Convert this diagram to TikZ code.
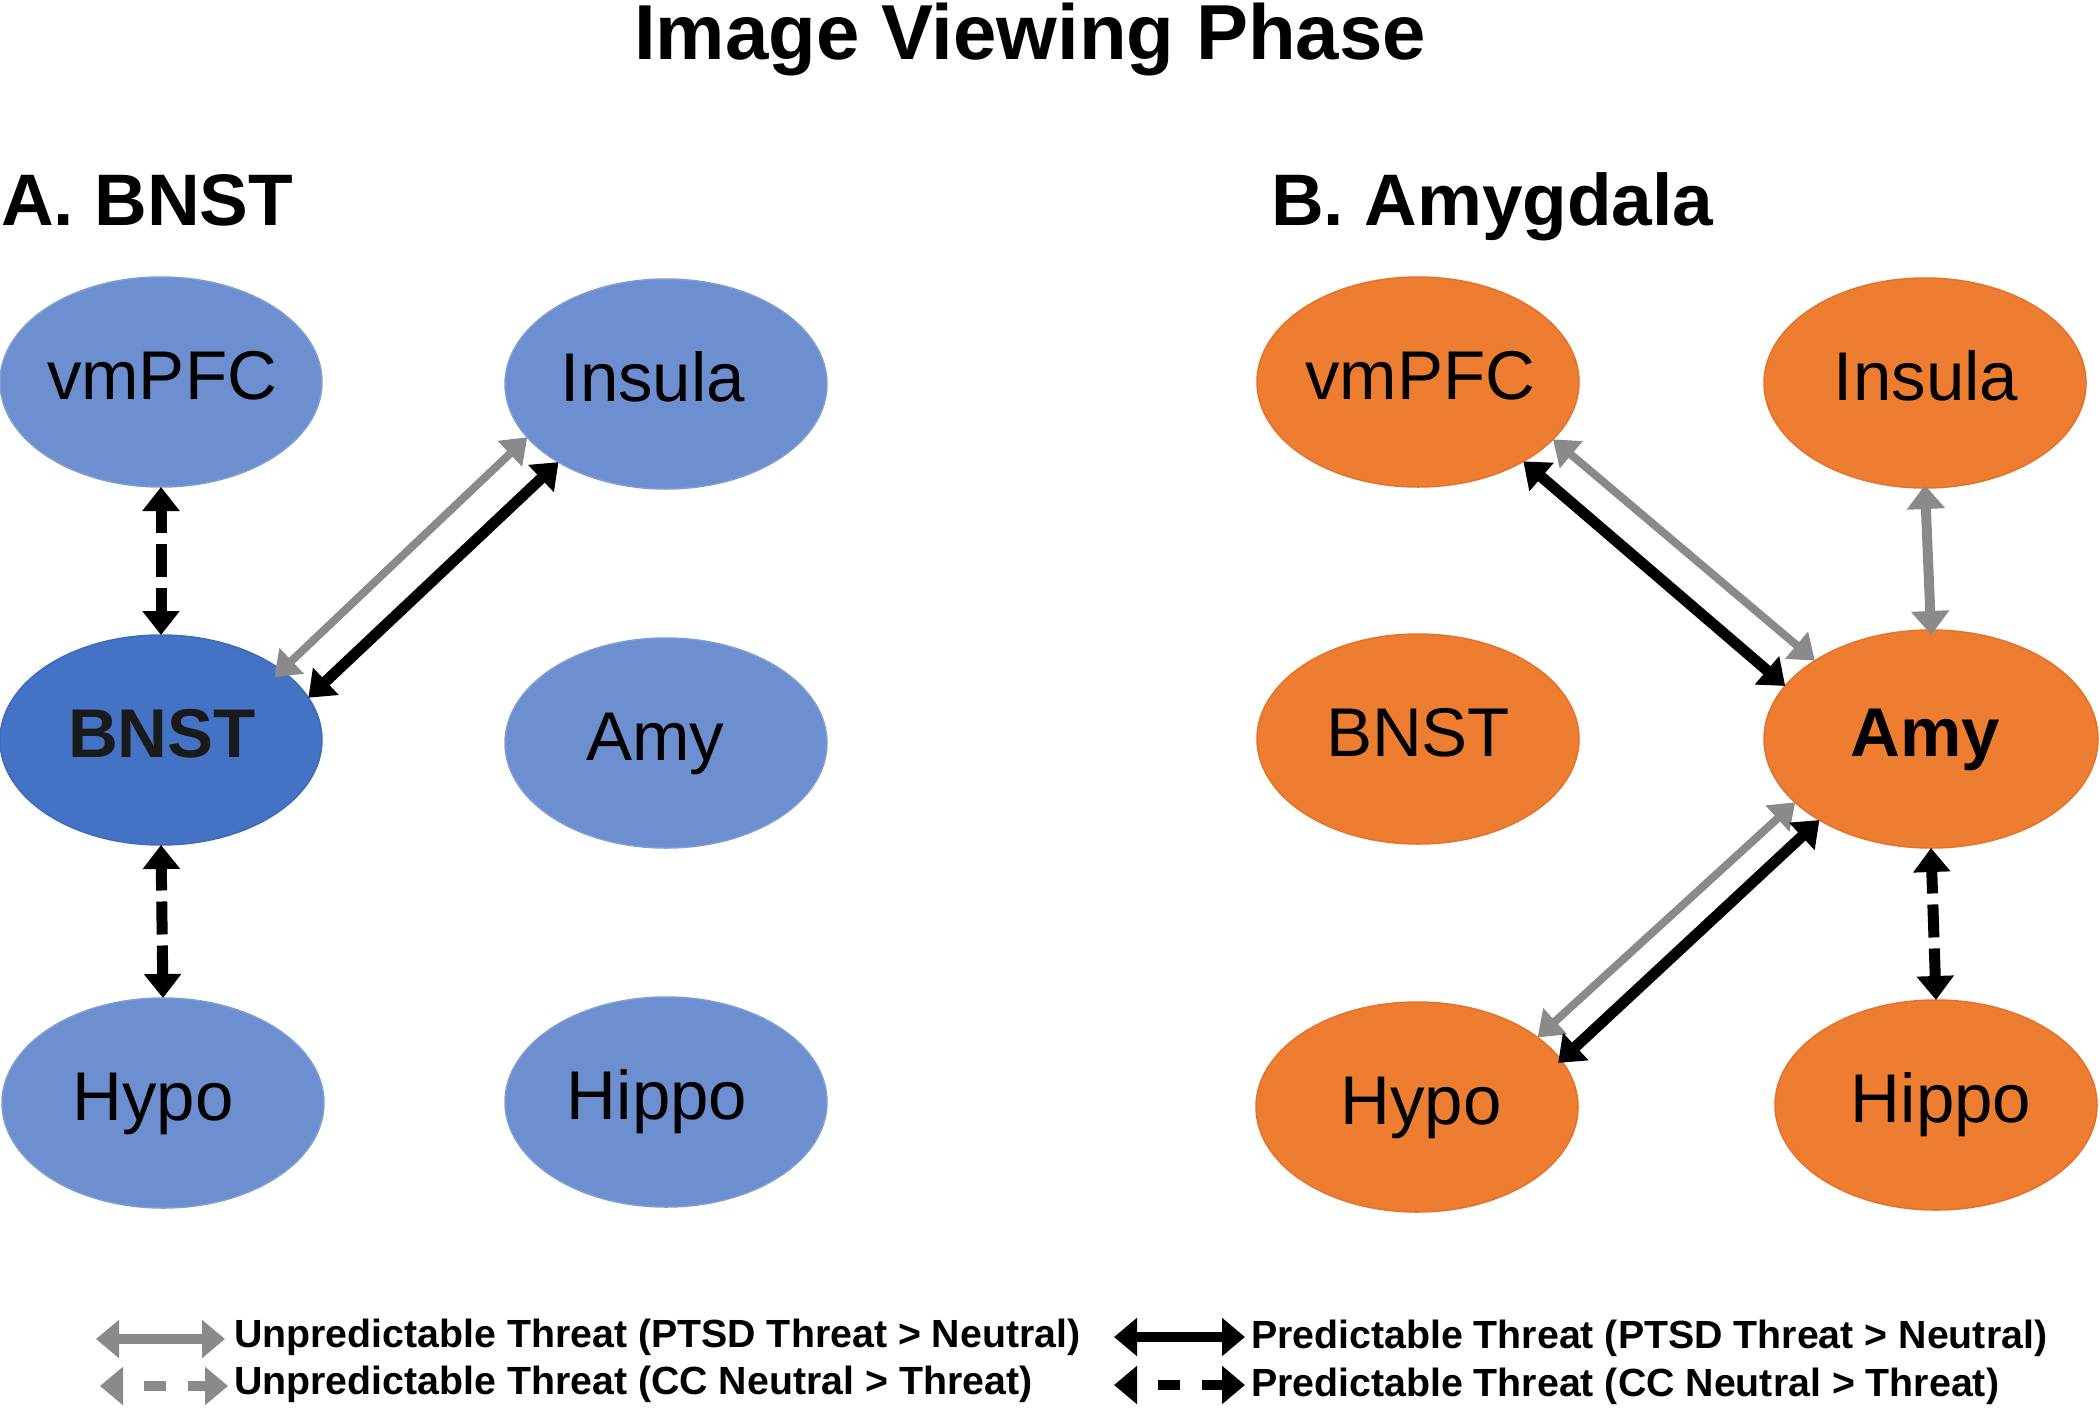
\documentclass[tikz,border=0pt]{standalone}
\usepackage{fontspec}
\setmainfont{Liberation Sans}
\usetikzlibrary{arrows.meta,shapes.geometric}
\definecolor{lblue}{HTML}{6D8FCF}
\definecolor{lblueline}{HTML}{7E9DD6}
\definecolor{dblue}{HTML}{4472C4}
\definecolor{dblueline}{HTML}{3F6BBB}
\definecolor{orng}{HTML}{ED7D31}
\definecolor{orngline}{HTML}{E5722A}
\definecolor{garrow}{HTML}{8A8A8A}
\newcommand{\ntext}[2][0pt]{\raisebox{-17pt}[0pt][0pt]{\makebox[0pt]{\hspace*{#1}\makebox[0pt]{\fontsize{69}{69}\selectfont #2}\hspace*{-#1}}}}
\tikzset{
  region/.style={ellipse, inner sep=0pt, outer sep=0pt, minimum width=322pt, minimum height=210pt, line width=1.5pt},
  lightnode/.style={region, fill=lblue, draw=lblueline},
  darknode/.style={region, fill=dblue, draw=dblueline},
  orangenode/.style={region, fill=orng, draw=orngline},
  blkarrow/.style={line width=11pt, black, {Triangle[length=24pt,width=36pt]}-{Triangle[length=24pt,width=36pt]}},
  gryarrow/.style={line width=8pt, garrow, {Triangle[length=24pt,width=34pt]}-{Triangle[length=24pt,width=34pt]}},
  dashedarrow/.style={dash pattern=on 33pt off 11pt, dash phase=10pt},
  legblk/.style={line width=10pt, black, {Triangle[length=23pt,width=37pt]}-{Triangle[length=23pt,width=37pt]}},
  leggry/.style={line width=10pt, garrow, {Triangle[length=23pt,width=37pt]}-{Triangle[length=23pt,width=37pt]}},
  legdash/.style={dash pattern=on 22pt off 22pt, dash phase=22pt},
  legtext/.style={anchor=base west, inner sep=0pt, font=\fontsize{39.3}{39.3}\selectfont\bfseries},
  heading/.style={anchor=base west, inner sep=0pt, font=\fontsize{73}{73}\selectfont\bfseries}
}
\begin{document}
\begin{tikzpicture}[x=1pt, y=-1pt]
\path[use as bounding box] (0,0) rectangle (2100,1410);

% titles
\node[anchor=base, inner sep=0pt, font=\fontsize{78}{78}\selectfont\bfseries] (title) at (1030,60) {Image Viewing Phase};
\node[heading] (headA) at (1,225) {A. BNST};
\node[heading] (headB) at (1271,225) {B. Amygdala};

% panel A
\node[lightnode] (vmL) at (161,382) {\ntext[1pt]{vmPFC}};
\node[lightnode] (inL) at (666,384) {\ntext[-13pt]{Insula}};
\node[darknode]  (bnL) at (161,740) {\ntext[1pt]{\textbf{\color[HTML]{1A1A1A}BNST}}};
\node[lightnode] (amL) at (666,743) {\ntext[-11pt]{Amy}};
\node[lightnode] (hyL) at (163,1103) {\ntext[-10pt]{Hypo}};
\node[lightnode] (hiL) at (666,1102) {\ntext[-9pt]{Hippo}};

% panel B
\node[orangenode] (vmR) at (1418,382) {\ntext[2pt]{vmPFC}};
\node[orangenode] (inR) at (1925,383) {\ntext[1pt]{Insula}};
\node[orangenode] (bnR) at (1418,739) {\ntext{BNST}};
\node[orangenode, minimum width=334pt, minimum height=218pt] (amR) at (1931,739) {\ntext[-6pt]{\textbf{Amy}}};
\node[orangenode] (hyR) at (1417,1107) {\ntext[4pt]{Hypo}};
\node[orangenode] (hiR) at (1936,1105) {\ntext[5pt]{Hippo}};

% connectors panel A
\draw[blkarrow, dashedarrow] (vmL.south) -- (bnL.north);
\draw[blkarrow, dashedarrow] (bnL.south) -- (hyL.north);
\draw[gryarrow, shorten <=-10pt] (bnL.30.3) -- (inL.201.9);
\draw[blkarrow] (bnL.16.6) -- (inL.216.8);

% connectors panel B
\draw[gryarrow] (vmR.337.3) -- (amR.146.4);
\draw[blkarrow] (vmR.323.8) -- (amR.160.15);
\draw[gryarrow, line width=10pt, {Triangle[length=24pt,width=37pt]}-{Triangle[length=24pt,width=37pt]}, shorten <=-3pt, shorten >=-5pt] (inR.south) -- (amR.north);
\draw[blkarrow, dashedarrow] (amR.south) -- (hiR.north);
\draw[gryarrow] (amR.205.6) -- (hyR.30.5);
\draw[blkarrow, shorten >=-4pt] (amR.216.9) -- (hyR.18.5);

% legend
\coordinate (lg1a) at (96,1339);  \coordinate (lg1b) at (225,1339);
\coordinate (lg2a) at (100,1386); \coordinate (lg2b) at (228,1386);
\coordinate (lb1a) at (1114,1337); \coordinate (lb1b) at (1245,1337);
\coordinate (lb2a) at (1114,1385); \coordinate (lb2b) at (1245,1385);
\draw[leggry] (lg1a) -- (lg1b);
\draw[leggry, legdash] (lg2a) -- (lg2b);
\draw[legblk] (lb1a) -- (lb1b);
\draw[legblk, legdash] (lb2a) -- (lb2b);
\node[legtext] (t1) at (234,1347) {Unpredictable Threat (PTSD Threat > Neutral)};
\node[legtext] (t2) at (234,1394) {Unpredictable Threat (CC Neutral > Threat)};
\node[legtext] (t3) at (1251,1348) {Predictable Threat (PTSD Threat > Neutral)};
\node[legtext] (t4) at (1251,1396) {Predictable Threat (CC Neutral > Threat)};
\end{tikzpicture}
\end{document}
